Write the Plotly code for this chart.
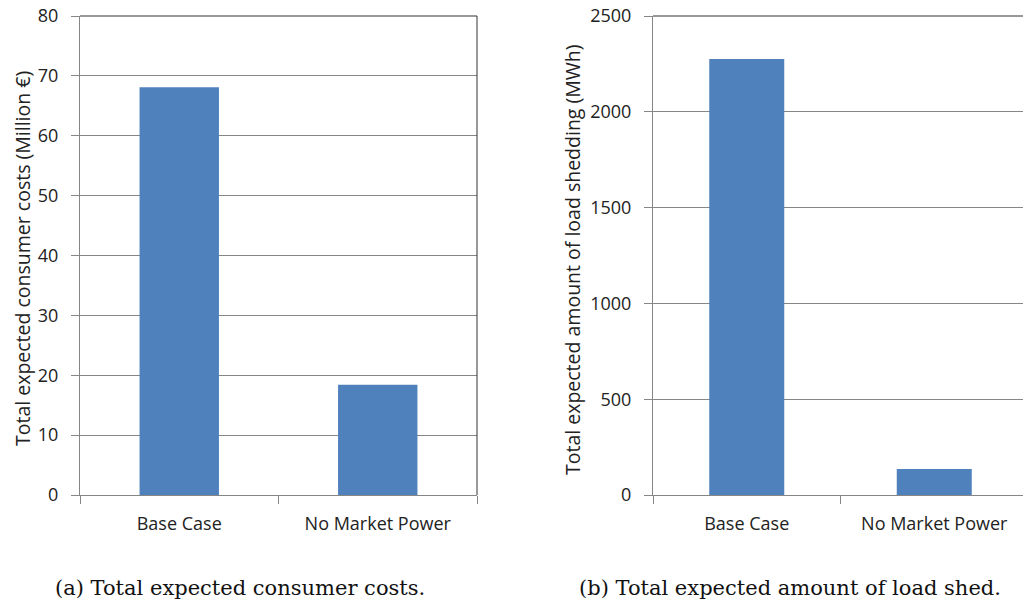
import plotly.graph_objects as go
from plotly.subplots import make_subplots

categories = ["Base Case", "No Market Power"]
consumer_costs = [68.1, 18.4]
load_shed = [2275, 136]
left_ticks = [0, 10, 20, 30, 40, 50, 60, 70, 80]
right_ticks = [0, 500, 1000, 1500, 2000, 2500]

W, H = 1023, 605
bar_color = "#4F81BD"
grid = "#868686"
font_sans = "Open Sans"
txt = "#222222"

fig = make_subplots(rows=1, cols=2)
fig.add_trace(go.Bar(x=categories, y=consumer_costs, marker_color=bar_color,
                     marker_line_width=0, width=0.4), row=1, col=1)
fig.add_trace(go.Bar(x=categories, y=load_shed, marker_color=bar_color,
                     marker_line_width=0, width=0.4), row=1, col=2)

def px(x):
    return x / W

def py(y):
    return (H - y) / H

xd1 = [px(80), px(477)]
xd2 = [px(653), 1.0]
yd = [py(495), py(16)]

axis_common = dict(showline=True, linecolor=grid, linewidth=1, ticks="outside",
                   tickcolor=grid, ticklen=8, automargin=False)

xfont = dict(family=font_sans, size=18, color=txt)
yfont = dict(family=font_sans, size=18, color=txt)

frac = (1023 - 653) / (1028 - 653)
fig.update_xaxes(domain=xd1, row=1, col=1, range=[-0.5, 1.5], tickson="boundaries",
                 tickfont=xfont, ticklabelstandoff=12, **axis_common)
fig.update_xaxes(domain=xd2, row=1, col=2, range=[-0.5, -0.5 + 2 * frac],
                 tickson="boundaries", tickfont=xfont, ticklabelstandoff=12, **axis_common)
fig.update_yaxes(domain=yd, row=1, col=1, range=[0, 80], tickvals=left_ticks,
                 showgrid=True, gridcolor=grid, gridwidth=1, zeroline=False,
                 tickfont=yfont, ticklabelstandoff=9, **axis_common)
fig.update_yaxes(domain=yd, row=1, col=2, range=[0, 2500], tickvals=right_ticks,
                 showgrid=True, gridcolor=grid, gridwidth=1, zeroline=False,
                 tickfont=yfont, ticklabelstandoff=9, **axis_common)

# axis titles
tfont = dict(family=font_sans, size=19.5, color=txt)
fig.add_annotation(text="Total expected consumer costs (Million €)", xref="paper", yref="paper",
                   x=px(23), y=py(259), textangle=-90, showarrow=False,
                   xanchor="center", yanchor="middle", font=tfont)
fig.add_annotation(text="Total expected amount of load shedding (MWh)", xref="paper", yref="paper",
                   x=px(572), y=py(260), textangle=-90, showarrow=False,
                   xanchor="center", yanchor="middle", font=tfont)

# chart borders (top / right)
fig.add_shape(type="line", xref="paper", yref="paper", x0=xd1[0], x1=xd1[1], y0=yd[1], y1=yd[1],
              line=dict(color="#333", width=1))
fig.add_shape(type="line", xref="paper", yref="paper", x0=xd1[1], x1=xd1[1], y0=yd[0], y1=yd[1],
              line=dict(color="#333", width=1))
fig.add_shape(type="line", xref="paper", yref="paper", x0=xd2[0], x1=xd2[1], y0=yd[1], y1=yd[1],
              line=dict(color="#333", width=1))

serif = "DejaVu Serif"
fig.add_annotation(text="(a) Total expected consumer costs.", xref="paper", yref="paper",
                   x=px(240), y=py(588), showarrow=False, xanchor="center", yanchor="middle",
                   font=dict(family=serif, size=21, color="#111"))
fig.add_annotation(text="(b) Total expected amount of load shed.", xref="paper", yref="paper",
                   x=px(790), y=py(588), showarrow=False, xanchor="center", yanchor="middle",
                   font=dict(family=serif, size=21, color="#111"))

fig.update_layout(width=W, height=H, margin=dict(l=0, r=0, t=0, b=0),
                  paper_bgcolor="white", plot_bgcolor="white", showlegend=False)

fig.write_html("out.html", config={"displayModeBar": False},
               post_script="document.body.style.margin='0';document.body.style.padding='0';document.body.style.overflow='hidden';")
